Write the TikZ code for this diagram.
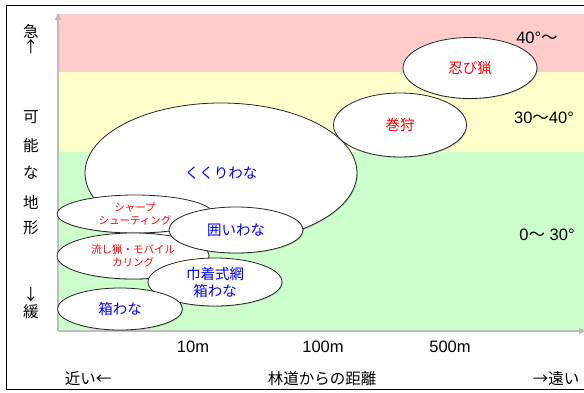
\documentclass[tikz,border=0pt]{standalone}
\usepackage{fontspec}
\setmainfont{Liberation Sans}
\newfontfamily\jp{Noto Sans CJK JP}
\usetikzlibrary{shapes.geometric,arrows.meta,shadows}
\definecolor{bandred}{HTML}{FFCCCC}
\definecolor{bandyellow}{HTML}{FFFFCC}
\definecolor{bandgreen}{HTML}{CCFFCC}
\definecolor{axisgray}{HTML}{BDBDBD}
\definecolor{txtblue}{HTML}{0000FF}
\definecolor{txtred}{HTML}{FF0000}
\tikzset{
  trap/.style={shape=ellipse, draw=black!85, fill=white, line width=0.8pt, inner sep=0pt, align=center,
    drop shadow={shadow xshift=0.9pt, shadow yshift=-0.9pt, opacity=0.35}},
  bluetxt/.style={text=txtblue, font=\jp\fontsize{14.5}{17}\selectfont},
  redtxt/.style={text=txtred, font=\jp\fontsize{14.5}{17}\selectfont},
  smallred/.style={text=txtred, font=\jp\fontsize{10.5}{13.5}\selectfont},
  sidelbl/.style={font=\jp\fontsize{15.5}{17}\selectfont, inner sep=0pt},
  numlbl/.style={font=\fontsize{16.5}{18}\selectfont, inner sep=0pt},
  axisline/.style={draw=axisgray, line width=1.4pt}
}
\begin{document}
\begin{tikzpicture}[x=1pt,y=-1pt]
\useasboundingbox (0,0) rectangle (584,392);
\clip (0,0) rectangle (584,392);
\fill[white] (0,0) rectangle (584,392);
% outer frame
\draw[line width=1pt] (6,5) rectangle (600,389);
% bands
\fill[bandred] (58,14) rectangle (590,72);
\fill[bandyellow] (58,72) rectangle (590,152);
\fill[bandgreen] (58,152) rectangle (590,330);
% axes
\coordinate (origin) at (58,331);
\coordinate (ytop) at (58,13);
\coordinate (xend) at (586,331);
\draw[axisline,-{Triangle[width=6pt,length=7pt]}] (origin) -- (ytop);
\draw[axisline,-{Triangle[width=6pt,length=7pt]}] (origin) -- (xend);
% ellipses
\node[trap, minimum width=272pt, minimum height=140pt, bluetxt] (kukuri) at (221,173) {くくりわな};
\node[trap, minimum width=134pt, minimum height=61pt, redtxt] (shinobi) at (470,68) {忍び猟};
\node[trap, minimum width=133pt, minimum height=64pt, redtxt] (makigari) at (400,125) {巻狩};
\node[trap, minimum width=156pt, minimum height=38pt, smallred] (sharp) at (135,214) {シャープ\\シューティング};
\node[trap, minimum width=152pt, minimum height=46pt, smallred] (nagashi) at (133,256) {流し猟・モバイル\\カリング};
\node[trap, minimum width=134pt, minimum height=46pt, bluetxt] (kakoi) at (236,230) {囲いわな};
\node[trap, minimum width=134pt, minimum height=48pt, bluetxt] (kinchaku) at (215,282) {巾着式網\\箱わな};
\node[trap, minimum width=125pt, minimum height=42pt, bluetxt] (hako) at (120,309) {箱わな};
% side labels
\node[sidelbl] (kyu) at (31,31) {急};
\node[sidelbl] (upar) at (31,47) {↑};
\node[sidelbl] (ka) at (31,117) {可};
\node[sidelbl] (no) at (31,146) {能};
\node[sidelbl] (na) at (31,173) {な};
\node[sidelbl] (chi) at (31,202) {地};
\node[sidelbl] (kei) at (31,228) {形};
\node[sidelbl] (dnar) at (31,295) {↓};
\node[sidelbl] (kan) at (31,312) {緩};
% band labels
\node[numlbl] (b40) at (537,38) {40°{\jp ～}};
\node[numlbl] (b3040) at (544,118) {30{\jp ～}40°};
\node[numlbl] (b030) at (547,235) {0{\jp ～} 30°};
% distance labels
\node[numlbl] (d10) at (193,347) {10m};
\node[numlbl] (d100) at (323,347) {100m};
\node[numlbl] (d500) at (450,347) {500m};
\node[sidelbl] (near) at (88,379) {近い←};
\node[sidelbl] (dist) at (322,379) {林道からの距離};
\node[sidelbl] (far) at (556,379) {→遠い};
\end{tikzpicture}
\end{document}
